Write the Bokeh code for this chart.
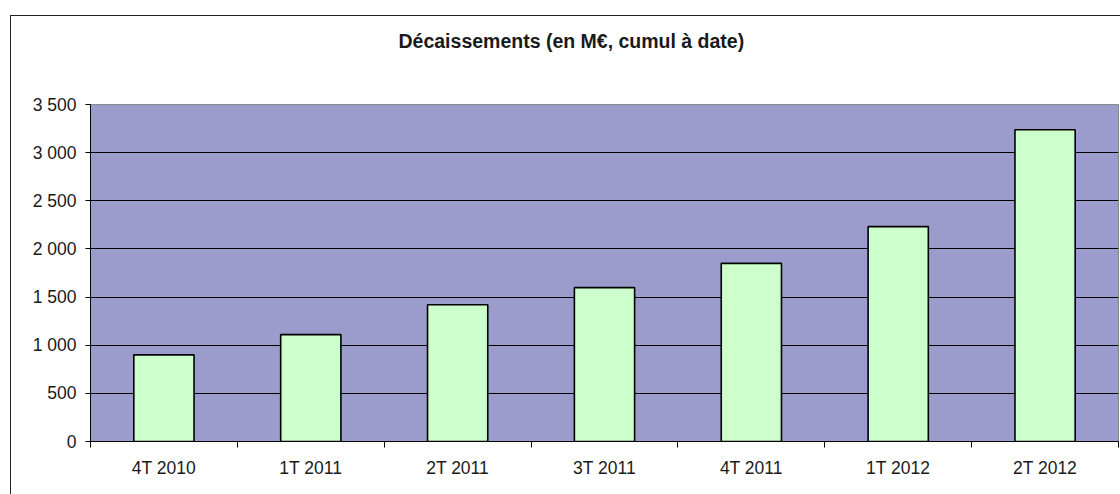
from bokeh.plotting import figure
from bokeh.models import FixedTicker, ColumnDataSource, Range1d, InlineStyleSheet, Title
from bokeh.embed import file_html
from bokeh.resources import INLINE

# ---- data ----
categories = ["4T 2010", "1T 2011", "2T 2011", "3T 2011", "4T 2011", "1T 2012", "2T 2012"]
values = [900, 1110, 1420, 1598, 1850, 2232, 3238]
y_ticks = [0, 500, 1000, 1500, 2000, 2500, 3000, 3500]
y_labels = ["0", "500", "1 000", "1 500", "2 000", "2 500", "3 000", "3 500"]
title_text = "Décaissements (en M€, cumul à date)"

W, H = 1120, 494
FONT = "Liberation Sans"
FL, FR, FT, FB = 90, 1118, 104, 441   # frame edges in page pixels

x_pos = [i + 0.5 for i in range(len(categories))]
src = ColumnDataSource(dict(x=x_pos, top=values))

p = figure(width=W, height=H, output_backend="svg", toolbar_location=None,
           x_range=Range1d(0, len(categories)), y_range=Range1d(0, 3500),
           min_border_left=FL, min_border_right=W - FR, min_border_top=FT,
           min_border_bottom=H - FB)
p.title.text = ""

p.background_fill_color = "#9b9bcc"
p.border_fill_color = "white"
p.outline_line_color = "#8a8a8a"
p.outline_line_width = 1

p.vbar(x="x", top="top", width=0.41, bottom=0, source=src,
       fill_color="#ccffcc", line_color="black", line_width=1.6)

# spacer next to the frame, then the real title above it
p.add_layout(Title(text=" ", text_font_size="1px", standoff=50), "above")
p.add_layout(Title(text=title_text, align="left", offset=308, standoff=0,
                   text_font=FONT, text_font_size="19.5px", text_font_style="bold",
                   text_color="#1a1a1a"), "above")

# y axis
p.yaxis.ticker = FixedTicker(ticks=y_ticks)
p.yaxis.major_label_overrides = {t: l for t, l in zip(y_ticks, y_labels)}
p.yaxis.major_tick_out = 5
p.yaxis.major_tick_in = 0
p.yaxis.minor_tick_out = 0
p.yaxis.minor_tick_in = 0
p.yaxis.axis_line_color = "black"
p.yaxis.major_tick_line_color = "black"
p.yaxis.major_label_text_font = FONT
p.yaxis.major_label_text_font_size = "17.5px"
p.yaxis.major_label_text_color = "#1a1a1a"
p.yaxis.major_label_standoff = 9

# x axis: labels at centres, ticks at boundaries (minor ticks)
p.xaxis.ticker = FixedTicker(ticks=x_pos, minor_ticks=list(range(len(categories) + 1)))
p.xaxis.major_label_overrides = {x: c for x, c in zip(x_pos, categories)}
p.xaxis.major_tick_out = 0
p.xaxis.major_tick_in = 0
p.xaxis.minor_tick_out = 6
p.xaxis.minor_tick_in = 0
p.xaxis.minor_tick_line_color = "black"
p.xaxis.axis_line_color = "black"
p.xaxis.major_label_text_font = FONT
p.xaxis.major_label_text_font_size = "17.5px"
p.xaxis.major_label_text_color = "#1a1a1a"
p.xaxis.major_label_standoff = 10

p.xgrid.grid_line_color = None
p.ygrid.ticker = FixedTicker(ticks=y_ticks)
p.ygrid.grid_line_color = "black"
p.ygrid.grid_line_width = 1

# outer chart border (drawn by CSS over the figure)
p.stylesheets = [InlineStyleSheet(css="""
:host { position: relative; }
:host::after {
  content: ""; position: absolute; left: 10px; top: 15px; right: 0px; bottom: 0px;
  border-left: 1px solid #222; border-top: 1px solid #222;
  pointer-events: none; z-index: 10;
}
""")]

open("out.html", "w").write(file_html(p, INLINE))
